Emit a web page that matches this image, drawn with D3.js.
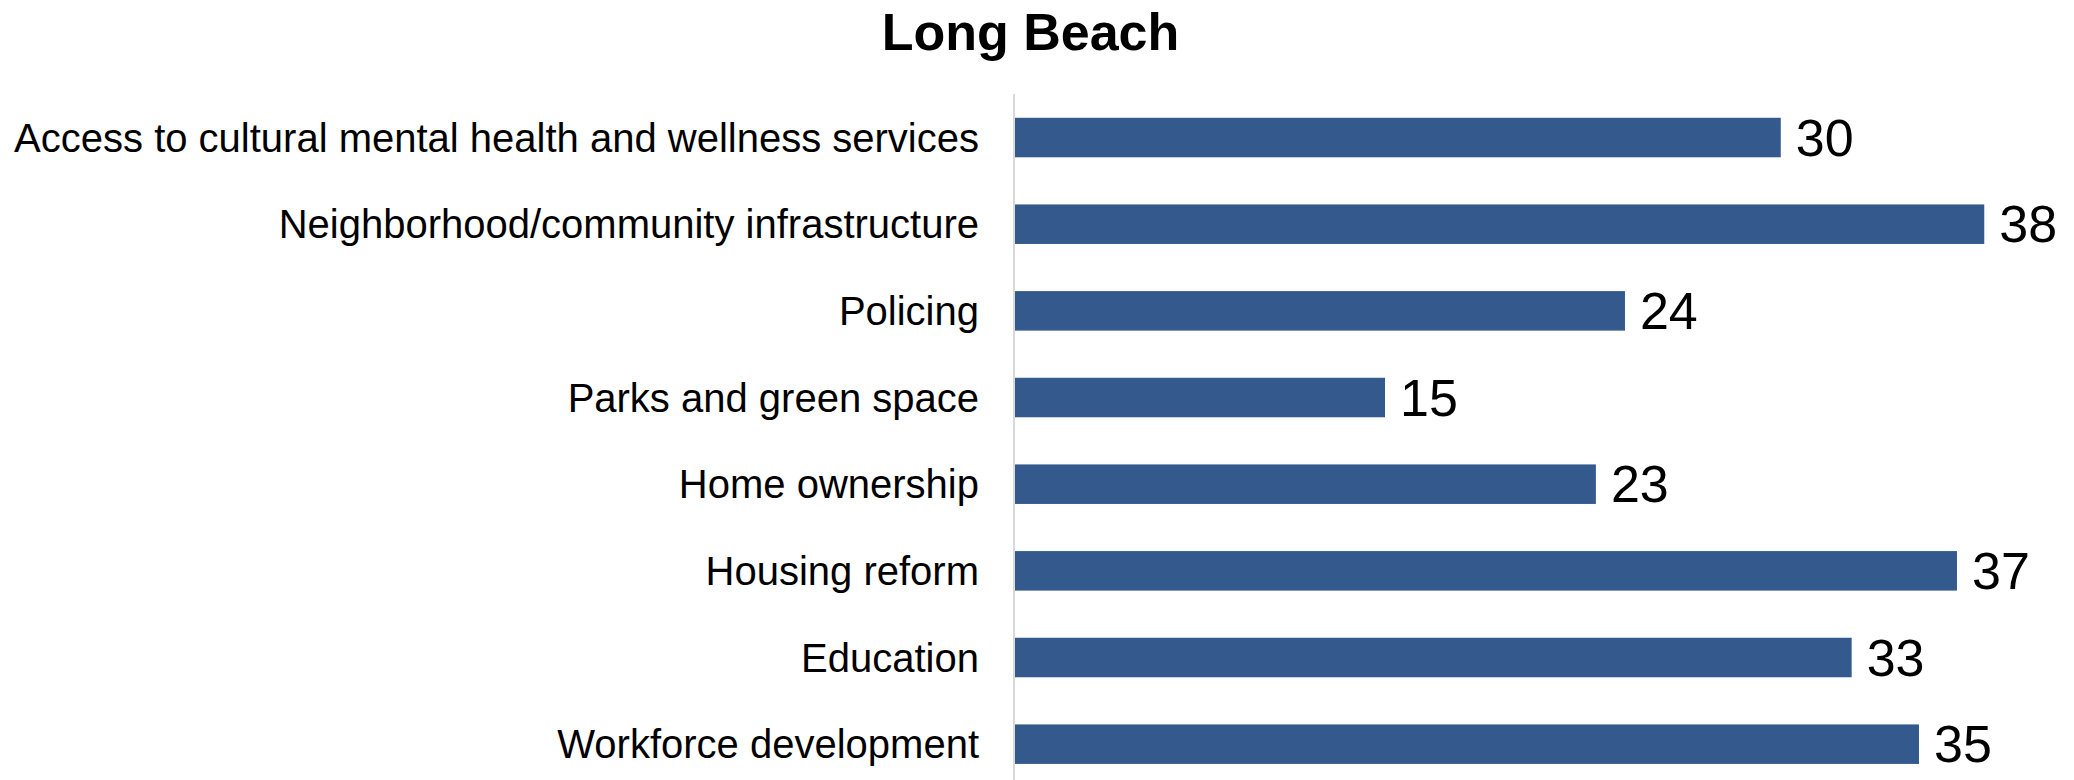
<!DOCTYPE html>
<html>
<head>
<meta charset="utf-8">
<script src="https://cdn.jsdelivr.net/npm/d3@7"></script>
<style>
  html, body { margin: 0; padding: 0; background: #fff; }
  svg { display: block; }
  text { font-family: Arial, "Liberation Sans", Helvetica, sans-serif; fill: #000; }
</style>
</head>
<body>
<svg id="chart" width="2074" height="780"></svg>
<script>
const title = "Long Beach";
const categories = [
  "Access to cultural mental health and wellness services",
  "Neighborhood/community infrastructure",
  "Policing",
  "Parks and green space",
  "Home ownership",
  "Housing reform",
  "Education",
  "Workforce development"
];
const values = [30.03, 38.01, 23.92, 14.51, 22.78, 36.94, 32.81, 35.45];
const xDomain = [0, 40];

const svg = d3.select("#chart");
const W = 2074, H = 780;

const x = d3.scaleLinear().domain(xDomain).range([1015, 2035]);
const y = d3.scaleBand().domain(categories).range([94.2, 787.5])
  .paddingInner(0.544).paddingOuter(0.272);

// title
svg.append("text")
  .attr("x", 1030.5).attr("y", 50)
  .attr("text-anchor", "middle")
  .attr("font-size", 52).attr("font-weight", "bold")
  .text(title);

// bars
const data = categories.map((c, i) => ({ c, v: values[i] }));
svg.append("g").selectAll("rect").data(data).join("rect")
  .attr("x", x(0))
  .attr("y", d => y(d.c))
  .attr("width", d => x(d.v) - x(0))
  .attr("height", y.bandwidth())
  .attr("fill", "#34598C");

// axis line (category axis)
const yAxis = d3.axisLeft(y).tickSize(0).tickPadding(35);
const ag = svg.append("g").attr("transform", `translate(${x(0) - 1},0)`).call(yAxis);
ag.select(".domain").attr("stroke", "#d9d9d9").attr("stroke-width", 2)
  .attr("d", `M0,94V${H + 10}`);
ag.selectAll(".tick text")
  .attr("font-size", 40)
  .attr("font-family", "Arial, 'Liberation Sans', sans-serif")
  .attr("fill", "#000")
  .attr("dy", "0.35em");

// value labels
const fmt = d3.format(".0f");
svg.append("g").selectAll("text").data(data).join("text")
  .attr("x", d => x(d.v) + 15)
  .attr("y", d => y(d.c) + y.bandwidth() / 2)
  .attr("dy", "0.35em")
  .attr("font-size", 52)
  .text(d => fmt(d.v));
</script>
</body>
</html>
